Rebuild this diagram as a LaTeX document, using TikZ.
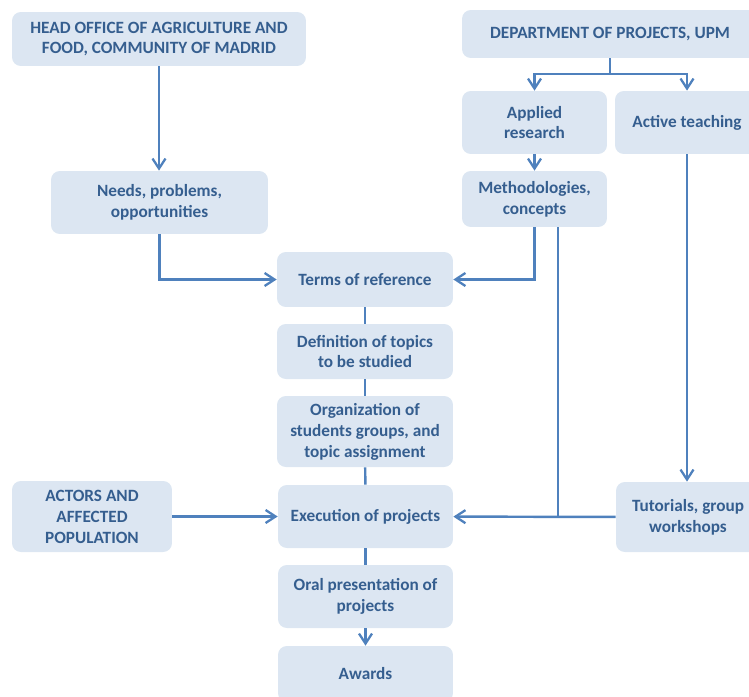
\documentclass[tikz,border=0pt]{standalone}
\usepackage{fontspec}
\setmainfont{Carlito}
\usetikzlibrary{arrows.meta,calc,positioning}
\definecolor{boxfill}{HTML}{DCE6F2}
\definecolor{boxtext}{HTML}{355E8F}
\definecolor{flowline}{HTML}{4F81BD}

\begin{document}
\begin{tikzpicture}[x=0.02cm,y=-0.02cm,
  stage/.style={fill=boxfill,rounded corners=5pt,align=center,
    font=\bfseries\fontsize{9.8}{11.9}\selectfont,text=boxtext,inner sep=2pt},
  link/.style={flowline,line width=1.4pt},
  flow/.style={link,-{Straight Barb[length=2mm,width=2.6mm,line width=1.3pt]}},
  tap/.style={flowline,line width=0.6pt}
]
\useasboundingbox (0,0) rectangle (749,696);
% sources
\node[stage,minimum width=5.88cm,minimum height=1.08cm] (head) at (159,39)
  {HEAD OFFICE OF AGRICULTURE AND\\FOOD, COMMUNITY OF MADRID};
\node[stage,minimum width=5.92cm,minimum height=0.96cm] (dept) at (610,34)
  {DEPARTMENT OF PROJECTS, UPM};
\node[stage,minimum width=2.9cm,minimum height=1.26cm] (applied) at (534.5,122.5)
  {Applied\\research};
\node[stage,minimum width=2.88cm,minimum height=1.26cm] (active) at (687,122.5)
  {Active teaching};
\node[stage,minimum width=2.9cm,minimum height=1.12cm] (method) at (534.5,199)
  {Methodologies,\\concepts};
\node[stage,minimum width=4.34cm,minimum height=1.26cm] (needs) at (159.5,202.5)
  {Needs, problems,\\opportunities};
% main chain
\node[stage,minimum width=3.52cm,minimum height=1.1cm] (terms) at (365,279.5)
  {Terms of reference};
\node[stage,minimum width=3.52cm,minimum height=1.1cm] (topics) at (365,351.5)
  {Definition of topics\\to be studied};
\node[stage,minimum width=3.52cm,minimum height=1.42cm] (groups) at (365,431.5)
  {Organization of\\students groups, and\\topic assignment};
\node[stage,minimum width=3.5cm,minimum height=1.26cm] (exec) at (365.5,516.5)
  {Execution of projects};
\node[stage,minimum width=3.5cm,minimum height=1.26cm] (oral) at (365.5,596.5)
  {Oral presentation of\\projects};
\node[stage,minimum width=3.5cm,minimum height=1.12cm] (awards) at (365.5,674)
  {Awards};
\node[stage,minimum width=3.2cm,minimum height=1.42cm] (actors) at (92,516.5)
  {ACTORS AND\\AFFECTED\\POPULATION};
\node[stage,minimum width=2.88cm,minimum height=1.4cm] (tutor) at (688,517)
  {Tutorials, group\\workshops};

\draw[flow] (head.south) -- (head.south |- needs.north);
\coordinate (split) at (610,74);
\draw[link] (dept.south) -- (split);
\draw[flow] (split) -| (applied.north);
\draw[flow] (split) -| (active.north);
\draw[flow] (applied) -- (method);
\draw[flow] (needs.south) |- (terms.west);
\draw[flow] (method.south) |- (terms.east);
\draw[link] (terms) -- (topics);
\draw[link] (topics) -- (groups);
\draw[link] (groups) -- (exec);
\draw[link] (exec) -- (oral);
\draw[flow] (oral) -- (awards);
\draw[flow] (actors) -- (exec);
\draw[flow] (tutor) -- (exec);
\draw[flow] (active.south) -- (active.south |- tutor.north);
\coordinate (join) at (558,517);
\draw[tap] (join |- method.south) -- (join);
\end{tikzpicture}
\end{document}
